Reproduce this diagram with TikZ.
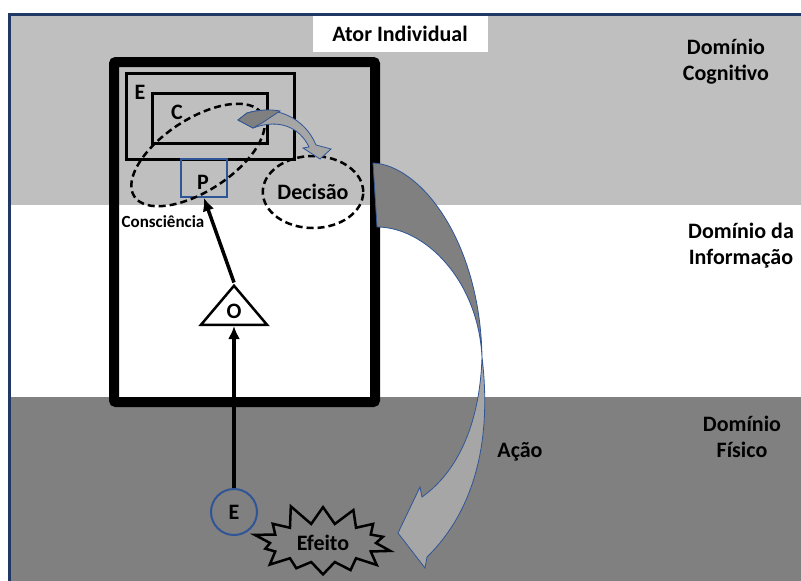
\documentclass[tikz,border=0pt]{standalone}
\usepackage{fontspec}
\setmainfont{Carlito}
\usetikzlibrary{arrows.meta,shapes.geometric,shapes.symbols}
\definecolor{bandlight}{HTML}{BFBFBF}
\definecolor{banddark}{HTML}{808080}
\definecolor{arrlight}{HTML}{A6A6A6}
\definecolor{navy}{HTML}{1F3864}
\definecolor{edgeblue}{HTML}{2F5597}

\begin{document}
\begin{tikzpicture}[
  x=1pt, y=-1pt,
  font=\bfseries\fontsize{22}{26}\selectfont,
  box/.style={draw, line width=3pt, inner sep=0pt},
  lbl/.style={inner sep=0pt},
  ring/.style={draw, ellipse, dash pattern=on 7pt off 4pt, line width=2.5pt, inner sep=0pt},
  arr/.style={-{Latex[length=13pt,width=12pt]}, line width=3.5pt},
  blk/.style={draw=edgeblue, line width=0.8pt}
]
\useasboundingbox (0,0) rectangle (801,581);
\fill[white] (0,0) rectangle (801,581);
\fill[bandlight] (11,16) rectangle (801,205);
\fill[banddark] (11,397) rectangle (801,581);
\draw[navy, line width=3pt] (9.5,581) -- (9.5,14.5) -- (801,14.5);

\node[fill=white, minimum width=175pt, minimum height=36pt] (ator) at (400,34) {Ator Individual};
\node[draw, line width=10pt, rounded corners=2pt, minimum width=261pt, minimum height=340pt] (frame) at (244.5,232) {};

\node[box, minimum width=168pt, minimum height=86pt] (erect) at (210,116) {};
\node[box, minimum width=115pt, minimum height=50pt] (crect) at (209.5,118) {};
\node[draw=edgeblue, line width=2pt, minimum width=46pt, minimum height=38pt] (prect) at (204,178) {};
\node[lbl] (elbl) at (140,92) {E};
\node[lbl] (clbl) at (177,112) {C};
\node[lbl] (plbl) at (203,182) {P};

\node[ring, minimum width=152pt, minimum height=72pt, rotate=33] (consc) at (198,155) {};
\node[lbl, font=\bfseries\fontsize{17}{20}\selectfont] (conslbl) at (163,222) {Consciência};
\node[ring, minimum width=96pt, minimum height=72pt] (dec) at (313,192) {Decisão};

\filldraw[blk, fill=arrlight] (247,113) .. controls (275,104) and (305,118) .. (316,145)
  -- (331,149) -- (320,159) -- (303,148) -- (309,147)
  .. controls (300,128) and (280,118) .. (253,128) -- (238,120) -- cycle;
\filldraw[blk, fill=banddark] (238,120) -- (247,113) .. controls (258,110) and (270,109) .. (280,111)
  -- (262,123) -- (253,128) -- cycle;

\filldraw[blk, fill=banddark] (373,163) .. controls (420,165) and (480,240) .. (482,357)
  .. controls (478,280) and (425,227) .. (377,227) -- cycle;
\filldraw[blk, fill=arrlight] (482,357) .. controls (492,440) and (475,510) .. (427,557)
  -- (425,568) -- (398,533) -- (420,487) -- (422,497)
  .. controls (460,470) and (480,420) .. (482,357) -- cycle;

\node[draw, line width=2.5pt, isosceles triangle, shape border rotate=90, isosceles triangle stretches,
  minimum width=66pt, minimum height=39pt, inner sep=0pt, anchor=lower side] (obs) at (234,326) {O};
\node[circle, draw=edgeblue, line width=2pt, minimum size=46pt, inner sep=0pt] (ent) at (234,512) {E};
\node[starburst, draw, line width=2.5pt, fill=banddark, minimum width=150pt, minimum height=78pt,
  starburst points=14, starburst point height=22pt, random starburst=11, inner sep=6pt] (efe) at (323,543) {Efeito};

\draw[arr] (ent) -- (obs.lower side);
\draw[arr] (obs.apex) -- (prect.south);

\node[align=center] (cog) at (726,62) {Domínio\\Cognitivo};
\node[align=center] (inf) at (741,246) {Domínio da\\Informação};
\node[align=center] (fis) at (742,437) {Domínio\\Físico};
\node (acao) at (520,452) {Ação};
\end{tikzpicture}
\end{document}
